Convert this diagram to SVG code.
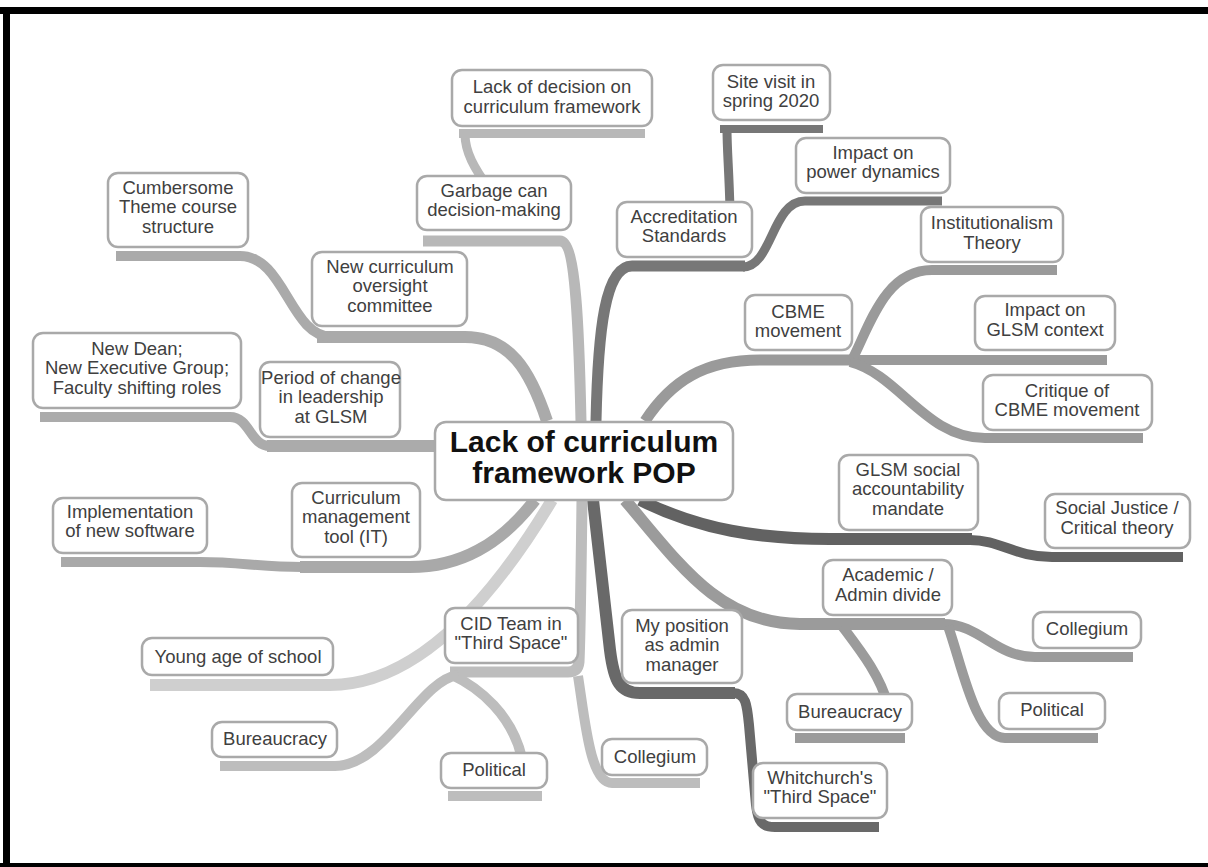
<svg xmlns="http://www.w3.org/2000/svg" width="1208" height="867" viewBox="0 0 1208 867">
<style>
.box{fill:#fff;stroke:#a9a9a9;stroke-width:2.5}
.t{font-family:"Liberation Sans",Arial,sans-serif;font-size:18.5px;fill:#404040;text-anchor:middle}
.main{font-family:"Liberation Sans",Arial,sans-serif;font-size:30px;font-weight:bold;fill:#111;text-anchor:middle}
#connectors path{fill:none;stroke-linecap:butt}
</style>
<rect x="0" y="0" width="1208" height="867" fill="#fff"/>
<g id="frame" fill="none" stroke="#000">
<line x1="0" y1="10.5" x2="1208" y2="10.5" stroke-width="7"/>
<line x1="6.5" y1="7" x2="6.5" y2="867" stroke-width="7"/>
<line x1="0" y1="866" x2="1208" y2="866" stroke-width="6"/>
</g>
<g id="connectors">
<path d="M 581 421 C 579 330 576 241 560 241 L 423 241" stroke="#b8b8b8" stroke-width="11"/>
<path d="M 490 190 C 474 168 465 152 465 134" stroke="#b8b8b8" stroke-width="9"/>
<path d="M 459 133.5 L 645 133.5" stroke="#b8b8b8" stroke-width="9"/>
<path d="M 596 421 C 598 330 605 266 632 266 L 745 266" stroke="#777" stroke-width="11"/>
<path d="M 743 267 C 772 267 772 201 805 201 L 942 201" stroke="#777" stroke-width="9"/>
<path d="M 730 210 C 729 170 727 150 727 129" stroke="#777" stroke-width="9"/>
<path d="M 720 129 L 823 129" stroke="#777" stroke-width="8"/>
<path d="M 645 421 C 672 380 705 360 760 360 L 852 360" stroke="#9a9a9a" stroke-width="11"/>
<path d="M 850 360 L 1107 360" stroke="#9a9a9a" stroke-width="10"/>
<path d="M 852 360 C 870 325 885 270 932 270 L 1057 270" stroke="#9a9a9a" stroke-width="10"/>
<path d="M 850 362 C 900 375 925 438 985 438 L 1143 438" stroke="#9a9a9a" stroke-width="10"/>
<path d="M 640 500 C 700 530 760 539 830 539 L 972 539" stroke="#626262" stroke-width="12"/>
<path d="M 970 540 C 1000 540 1015 557 1052 557 L 1183 557" stroke="#626262" stroke-width="10"/>
<path d="M 625 500 C 680 565 720 624 800 624 L 945 624" stroke="#9b9b9b" stroke-width="12"/>
<path d="M 943 624 C 980 624 995 657 1035 657 L 1133 657" stroke="#9b9b9b" stroke-width="10"/>
<path d="M 948 626 C 962 665 975 738 1005 738 L 1098 738" stroke="#9b9b9b" stroke-width="10"/>
<path d="M 842 626 C 860 650 880 675 888 705" stroke="#9b9b9b" stroke-width="10"/>
<path d="M 795 738 L 905 738" stroke="#9b9b9b" stroke-width="10"/>
<path d="M 593 500 C 600 560 605 610 610 650 C 614 682 620 693 640 693 L 735 693" stroke="#696969" stroke-width="12"/>
<path d="M 733 693 C 746 693 747 705 749 725 L 756 805 C 758 822 762 827 775 827 L 879 827" stroke="#696969" stroke-width="10"/>
<path d="M 582 500 C 581 580 580 640 579 662 Q 578 672 568 672 L 450 672" stroke="#bdbdbd" stroke-width="11"/>
<path d="M 578 676 C 585 720 590 783 612 783 L 700 783" stroke="#bdbdbd" stroke-width="10"/>
<path d="M 452 675 C 480 688 512 715 522 758" stroke="#bdbdbd" stroke-width="10"/>
<path d="M 448 796 L 542 796" stroke="#bdbdbd" stroke-width="10"/>
<path d="M 458 675 C 420 680 385 766 335 766 L 220 766" stroke="#bdbdbd" stroke-width="10"/>
<path d="M 552 500 C 510 570 430 685 330 685 L 150 685" stroke="#cfcfcf" stroke-width="12"/>
<path d="M 535 500 C 500 545 460 567 410 567 L 300 567" stroke="#a9a9a9" stroke-width="12"/>
<path d="M 302 567 C 260 567 240 562 200 562 L 61 562" stroke="#a9a9a9" stroke-width="10"/>
<path d="M 437 446 L 267 446" stroke="#ababab" stroke-width="12"/>
<path d="M 270 446 C 250 446 250 417 230 417 L 40 417" stroke="#ababab" stroke-width="10"/>
<path d="M 547 421 C 530 370 510 337 465 337 L 317 337" stroke="#aaaaaa" stroke-width="12"/>
<path d="M 332 337 C 290 337 285 256 240 256 L 116 256" stroke="#aaaaaa" stroke-width="10"/>
</g>
<g id="n-center"><rect class="box" x="435" y="422" width="298" height="78" rx="11"/><text class="main" x="584" y="452">Lack of curriculum</text><text class="main" x="584" y="483">framework POP</text></g>
<g id="n-lackdecision"><rect class="box" x="452" y="70" width="200" height="56" rx="10"/><text class="t" x="552" y="93.25">Lack of decision on</text><text class="t" x="552" y="112.75">curriculum framework</text></g>
<g id="n-garbage"><rect class="box" x="417" y="176" width="154" height="54" rx="10"/><text class="t" x="494" y="196.75">Garbage can</text><text class="t" x="494" y="216.25">decision-making</text></g>
<g id="n-sitevisit"><rect class="box" x="713" y="65" width="117" height="55" rx="10"/><text class="t" x="771" y="87.75">Site visit in</text><text class="t" x="771" y="107.25">spring 2020</text></g>
<g id="n-accreditation"><rect class="box" x="617" y="202" width="135" height="55" rx="10"/><text class="t" x="684" y="222.75">Accreditation</text><text class="t" x="684" y="242.25">Standards</text></g>
<g id="n-power"><rect class="box" x="796" y="138" width="154" height="55" rx="10"/><text class="t" x="873" y="158.75">Impact on</text><text class="t" x="873" y="178.25">power dynamics</text></g>
<g id="n-institutionalism"><rect class="box" x="921" y="207" width="142" height="55" rx="10"/><text class="t" x="992" y="229.25">Institutionalism</text><text class="t" x="992" y="248.75">Theory</text></g>
<g id="n-cbme"><rect class="box" x="745" y="295" width="107" height="55" rx="10"/><text class="t" x="798" y="317.75">CBME</text><text class="t" x="798" y="337.25">movement</text></g>
<g id="n-glsmcontext"><rect class="box" x="975" y="296" width="140" height="54" rx="10"/><text class="t" x="1045" y="316.25">Impact on</text><text class="t" x="1045" y="335.75">GLSM context</text></g>
<g id="n-critique"><rect class="box" x="983" y="375" width="169" height="55" rx="10"/><text class="t" x="1067" y="396.75">Critique of</text><text class="t" x="1067" y="416.25">CBME movement</text></g>
<g id="n-mandate"><rect class="box" x="839" y="455" width="139" height="75" rx="10"/><text class="t" x="908" y="475.5">GLSM social</text><text class="t" x="908" y="495">accountability</text><text class="t" x="908" y="514.5">mandate</text></g>
<g id="n-socialjustice"><rect class="box" x="1045" y="494" width="145" height="54" rx="10"/><text class="t" x="1117" y="514.25">Social Justice /</text><text class="t" x="1117" y="533.75">Critical theory</text></g>
<g id="n-academic"><rect class="box" x="823" y="560" width="129" height="55" rx="10"/><text class="t" x="888" y="581.25">Academic /</text><text class="t" x="888" y="600.75">Admin divide</text></g>
<g id="n-collegium-r"><rect class="box" x="1033" y="612" width="108" height="36" rx="10"/><text class="t" x="1087" y="635">Collegium</text></g>
<g id="n-political-r"><rect class="box" x="999" y="693" width="106" height="36" rx="10"/><text class="t" x="1052" y="716">Political</text></g>
<g id="n-bureaucracy-r"><rect class="box" x="787" y="694" width="125" height="36" rx="10"/><text class="t" x="850" y="718">Bureaucracy</text></g>
<g id="n-whitchurch"><rect class="box" x="753" y="763" width="134" height="55" rx="10"/><text class="t" x="820" y="783.75">Whitchurch's</text><text class="t" x="820" y="803.25">"Third Space"</text></g>
<g id="n-myposition"><rect class="box" x="622" y="610" width="120" height="73" rx="10"/><text class="t" x="682" y="631.5">My position</text><text class="t" x="682" y="651">as admin</text><text class="t" x="682" y="670.5">manager</text></g>
<g id="n-cid"><rect class="box" x="445" y="608" width="133" height="55" rx="10"/><text class="t" x="511" y="629.75">CID Team in</text><text class="t" x="511" y="649.25">"Third Space"</text></g>
<g id="n-political-l"><rect class="box" x="441" y="753" width="106" height="35" rx="10"/><text class="t" x="494" y="776">Political</text></g>
<g id="n-collegium-l"><rect class="box" x="602" y="739" width="105" height="36" rx="10"/><text class="t" x="655" y="763">Collegium</text></g>
<g id="n-bureaucracy-l"><rect class="box" x="212" y="722" width="125" height="35" rx="10"/><text class="t" x="275" y="745">Bureaucracy</text></g>
<g id="n-youngage"><rect class="box" x="142" y="638" width="191" height="37" rx="10"/><text class="t" x="238" y="663">Young age of school</text></g>
<g id="n-cmtool"><rect class="box" x="292" y="483" width="128" height="74" rx="10"/><text class="t" x="356" y="503.5">Curriculum</text><text class="t" x="356" y="523">management</text><text class="t" x="356" y="542.5">tool (IT)</text></g>
<g id="n-implementation"><rect class="box" x="53" y="498" width="154" height="55" rx="10"/><text class="t" x="130" y="517.75">Implementation</text><text class="t" x="130" y="537.25">of new software</text></g>
<g id="n-period"><rect class="box" x="260" y="362" width="140" height="75" rx="10"/><text class="t" x="331" y="383.5">Period of change</text><text class="t" x="331" y="403">in leadership</text><text class="t" x="331" y="422.5">at GLSM</text></g>
<g id="n-newdean"><rect class="box" x="33" y="333" width="208" height="75" rx="10"/><text class="t" x="137" y="354.5">New Dean;</text><text class="t" x="137" y="374">New Executive Group;</text><text class="t" x="137" y="393.5">Faculty shifting roles</text></g>
<g id="n-oversight"><rect class="box" x="312" y="252" width="155" height="74" rx="10"/><text class="t" x="390" y="272.5">New curriculum</text><text class="t" x="390" y="292">oversight</text><text class="t" x="390" y="311.5">committee</text></g>
<g id="n-cumbersome"><rect class="box" x="108" y="173" width="140" height="74" rx="10"/><text class="t" x="178" y="193.5">Cumbersome</text><text class="t" x="178" y="213">Theme course</text><text class="t" x="178" y="232.5">structure</text></g>
</svg>
